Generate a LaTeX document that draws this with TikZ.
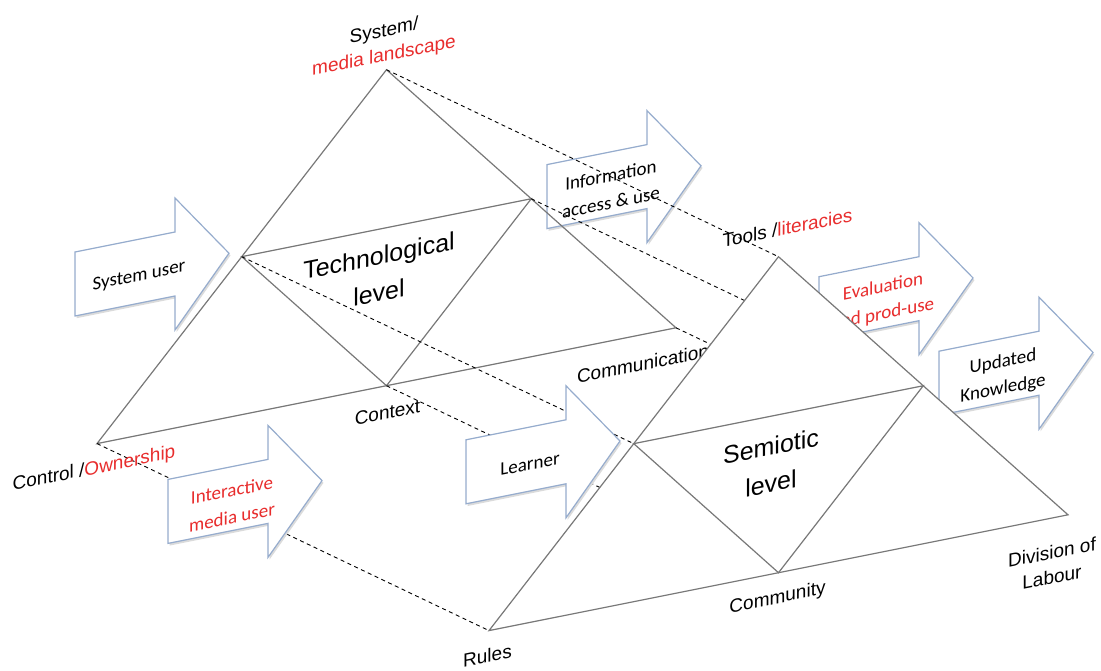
\documentclass[tikz,border=0pt]{standalone}
\usepackage{fontspec}
\setmainfont{Liberation Sans}
\newfontfamily\calibfont{Carlito}
\definecolor{arrowline}{RGB}{150,172,205}
\definecolor{triline}{RGB}{120,120,120}
\definecolor{lblred}{RGB}{232,45,45}
\tikzset{
  tri/.style={draw=triline, line width=1.2pt, line join=miter},
  dashlink/.style={draw=black, line width=0.9pt, dash pattern=on 4pt off 3.5pt},
  blk/.style={fill=white, draw=arrowline, line width=1.2pt, line join=miter},
  blkshadow/.style={fill=black!14},
  lbl/.style={transform shape, inner sep=0pt, align=center, font=\fontsize{19}{25}\selectfont},
  biglbl/.style={transform shape, inner sep=0pt, align=center, font=\fontsize{25}{37}\selectfont},
  arrtxt/.style={transform shape, inner sep=0pt, align=center, font=\calibfont\fontsize{19}{27}\selectfont},
}
\newcommand\blockarr[3]{%
  \fill[blkshadow] ({#2+1.5},{#3-29.5}) -- ({#2+101.5},{#3-29.5}) -- ({#2+101.5},{#3-63.5}) -- ({#2+155.5},{#3+2.5}) -- ({#2+101.5},{#3+68.5}) -- ({#2+101.5},{#3+34.5}) -- ({#2+1.5},{#3+34.5}) -- cycle;
  \draw[blk] ({#2},{#3-32}) -- ({#2+100},{#3-32}) -- ({#2+100},{#3-66}) -- ({#2+154},{#3}) -- ({#2+100},{#3+66}) -- ({#2+100},{#3+32}) -- ({#2},{#3+32}) -- cycle;
  \coordinate (#1) at ({#2},{#3});
}
\begin{document}
\begin{tikzpicture}[x=1pt,y=-1pt]
\useasboundingbox (0,0) rectangle (1101,670);
\begin{scope}[yslant=0.2]
  % vertices of the two triangles
  \coordinate (T1) at (386.5,147);
  \coordinate (C1) at (97,463);
  \coordinate (D1) at (676,463);
  \coordinate (L1) at (241.75,305);
  \coordinate (R1) at (531.25,305);
  \coordinate (M1) at (386.5,463);
  \coordinate (T2) at (778.5,412.4);
  \coordinate (C2) at (489,728.4);
  \coordinate (D2) at (1068,728.4);
  \coordinate (L2) at (633.75,570.4);
  \coordinate (R2) at (923.25,570.4);
  \coordinate (M2) at (778.5,728.4);

  % information arrow (lowest layer)
  \blockarr{aInfo}{547}{306}
  \node[arrtxt] (tInfo) at (611,311) {Information\\access \& use};

  % technological triangle
  \draw[tri] (T1) -- (C1) -- (D1) -- cycle;
  \draw[tri] (L1) -- (R1) -- (M1) -- cycle;

  % dashed links
  \draw[dashlink] (T1) -- (T2);
  \draw[dashlink] (L1) -- (L2);
  \draw[dashlink] (R1) -- (R2);
  \draw[dashlink] (C1) -- (C2);
  \draw[dashlink] (M1) -- (M2);
  \draw[dashlink] (D1) -- (D2);

  % block arrows
  \blockarr{aSys}{75}{299}
  \node[arrtxt] (tSys) at (139,304) {System user};
  \blockarr{aInt}{168}{545}
  \node[arrtxt, text=lblred] (tInt) at (232,550) {Interactive\\media user};
  \blockarr{aLrn}{466}{565}
  \node[arrtxt] (tLrn) at (530,570) {Learner};
  \blockarr{aEva}{819}{472.5}
  \node[arrtxt, text=lblred] (tEva) at (883,477.5) {Evaluation\\and prod-use};
  \blockarr{aUpd}{939}{571}
  \node[arrtxt] (tUpd) at (1003,576) {Updated\\Knowledge};

  % labels of the technological level
  \node[lbl] (lSys) at (384,121) {System/\\\textcolor{lblred}{media landscape}};
  \node[lbl] (lCtl) at (94,488) {Control /\textcolor{lblred}{Ownership}};
  \node[lbl] (lCtx) at (387.5,490) {Context};
  \node[lbl] (lCom) at (643,492) {Communication};
  \node[biglbl] (lTech) at (379,350) {Technological\\level};

  % semiotic triangle
  \filldraw[tri, fill=white] (T2) -- (C2) -- (D2) -- cycle;
  \draw[tri] (L2) -- (R2) -- (M2) -- cycle;

  % labels of the semiotic level
  \node[lbl] (lTool) at (787.5,385) {Tools /\textcolor{lblred}{literacies}};
  \node[lbl] (lRul) at (487.5,753) {Rules};
  \node[lbl] (lCmy) at (777.5,754) {Community};
  \node[lbl] (lDiv) at (1052,775) {Division of\\Labour};
  \node[biglbl] (lSem) at (771,619) {Semiotic\\level};
\end{scope}
\end{tikzpicture}
\end{document}
